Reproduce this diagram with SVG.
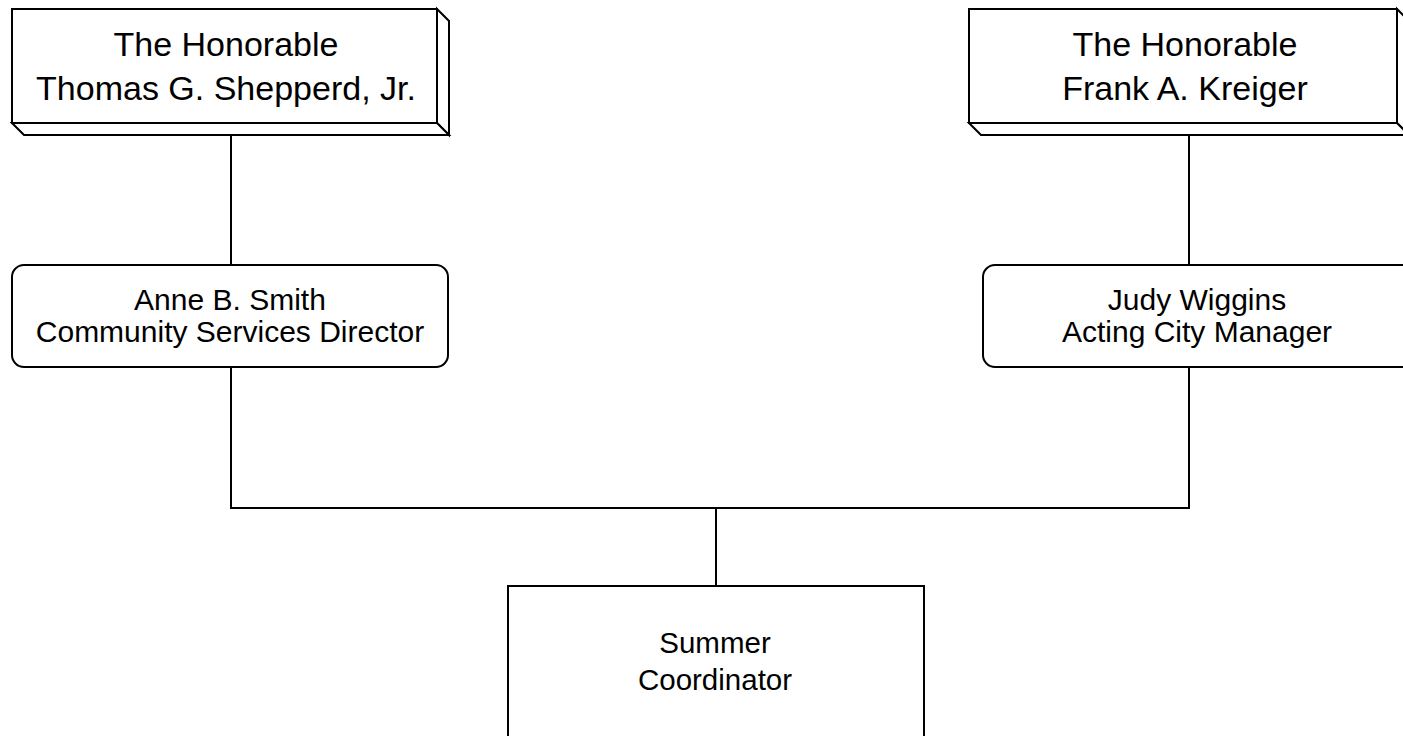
<svg xmlns="http://www.w3.org/2000/svg" width="1403" height="736" viewBox="0 0 1403 736">
<style>
.box{fill:#fff;stroke:#000;stroke-width:2;stroke-linejoin:miter}
.ln{fill:none;stroke:#000;stroke-width:2}
text{font-family:"Liberation Sans",Arial,sans-serif;fill:#000;text-anchor:middle}
.t1{font-size:34px}
.t2{font-size:30px}
.t3{font-size:29.5px}
</style>
<rect width="1403" height="736" fill="#fff"/>
<g id="connectors">
<path class="ln" d="M231 135V265"/>
<path class="ln" d="M1189 135V265"/>
<path class="ln" d="M231 367V508H1189V367"/>
<path class="ln" d="M716 508V586"/>
</g>
<g id="node-shepperd">
<polygon class="box" points="437,9 449,21 449,135 437,123"/>
<polygon class="box" points="12,123 24,135 449,135 437,123"/>
<rect class="box" x="12" y="9" width="425" height="114"/>
<text class="t1" x="226" y="56">The Honorable</text>
<text class="t1" x="226" y="100">Thomas G. Shepperd, Jr.</text>
</g>
<g id="node-kreiger">
<polygon class="box" points="1397,9 1409,21 1409,135 1397,123"/>
<polygon class="box" points="969,123 981,135 1409,135 1397,123"/>
<rect class="box" x="969" y="9" width="428" height="114"/>
<text class="t1" x="1185" y="56">The Honorable</text>
<text class="t1" x="1185" y="100">Frank A. Kreiger</text>
</g>
<g id="node-smith">
<rect class="box" x="12" y="265" width="436" height="102" rx="12"/>
<text class="t2" x="230" y="310">Anne B. Smith</text>
<text class="t2" x="230" y="342">Community Services Director</text>
</g>
<g id="node-wiggins">
<rect class="box" x="983" y="265" width="440" height="102" rx="12"/>
<text class="t2" x="1197" y="310">Judy Wiggins</text>
<text class="t2" x="1197" y="342">Acting City Manager</text>
</g>
<g id="node-summer">
<rect class="box" x="508" y="586" width="416" height="200"/>
<text class="t3" x="715" y="653">Summer</text>
<text class="t3" x="715" y="690">Coordinator</text>
</g>
</svg>
